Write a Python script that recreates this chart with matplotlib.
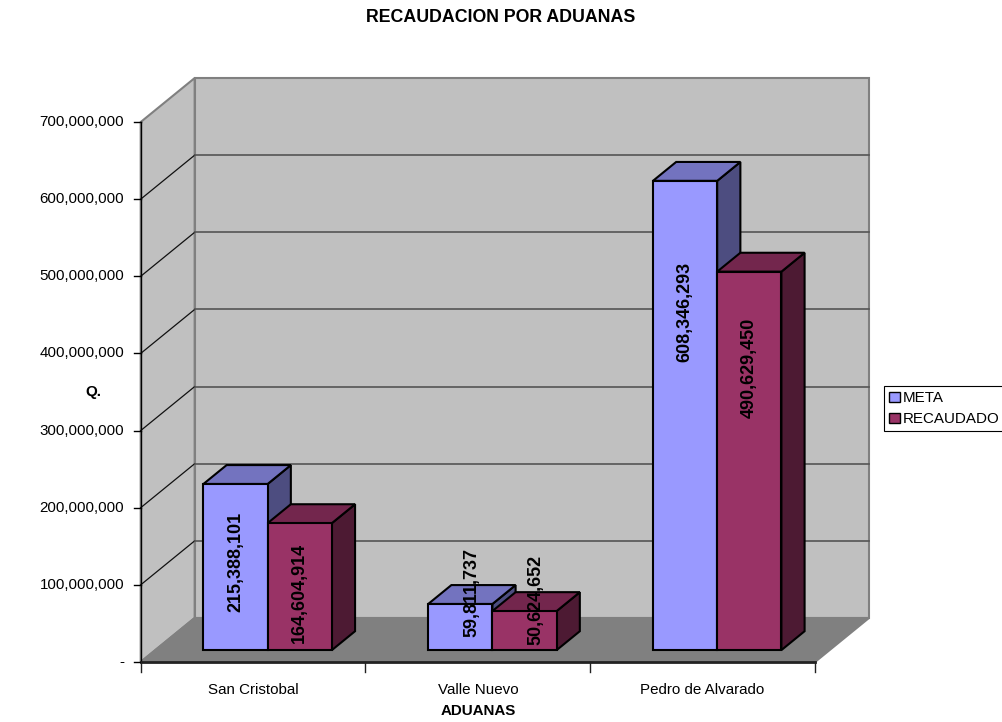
import matplotlib.pyplot as plt
from matplotlib.patches import Polygon, Patch

plt.rcParams['font.family'] = ['Liberation Sans', 'DejaVu Sans']

# Data
aduanas = ['San Cristobal', 'Valle Nuevo', 'Pedro de Alvarado']
meta = [215388101, 59811737, 608346293]
recaudado = [164604914, 50624652, 490629450]
series_names = ['META', 'RECAUDADO']
y_ticks = [0, 100e6, 200e6, 300e6, 400e6, 500e6, 600e6, 700e6]
y_tick_labels = ['-', '100,000,000', '200,000,000', '300,000,000', '400,000,000',
                 '500,000,000', '600,000,000', '700,000,000']

# face colours: front, top, side
colors = {
    'META': ('#9999FF', '#7373BF', '#4D4D80'),
    'RECAUDADO': ('#993366', '#73264D', '#4D1A33'),
}

# where the value label sits: height as share of the bar, depth as share of the bar depth
label_height = {'META': [0.53, 1.04, 0.72], 'RECAUDADO': [0.45, 1.04, 0.745]}
label_depth = [0.0, 0.5, 0.0]

# oblique projection of the floor depth
DX, DY = 0.24, 57.0e6
YMAX = 700e6
n = len(aduanas)


def proj(x, y, d):
    return (x + d * DX, y + d * DY)


def face(ax, pts, fc, ec, lw=1.5, z=1):
    ax.add_patch(Polygon([proj(*p) for p in pts], closed=True, facecolor=fc,
                         edgecolor=ec, linewidth=lw, joinstyle='miter', zorder=z))


fig = plt.figure(figsize=(10.02, 7.22), dpi=100)
ax = fig.add_axes([0, 0, 1, 1])
ax.set_xlim(-0.626, 3.832)
ax.set_ylim(-77.8e6, 858.2e6)
ax.axis('off')

# walls and floor
face(ax, [(0, 0, 1), (n, 0, 1), (n, YMAX, 1), (0, YMAX, 1)], '#C0C0C0', '#808080')
face(ax, [(0, 0, 0), (0, 0, 1), (0, YMAX, 1), (0, YMAX, 0)], '#C0C0C0', '#808080')
face(ax, [(0, 0, 0), (n, 0, 0), (n, 0, 1), (0, 0, 1)], '#808080', '#808080')

# gridlines on the side wall and back wall
for v in y_ticks[1:-1]:
    a, b, c = proj(0, v, 0), proj(0, v, 1), proj(n, v, 1)
    ax.plot([a[0], b[0]], [a[1], b[1]], color='#111111', lw=0.9, zorder=2)
    ax.plot([b[0], c[0]], [b[1], c[1]], color='#555555', lw=1.2, zorder=2)

# axes lines and ticks
ax.plot([0, 0], [0, YMAX], color='black', lw=1, zorder=3)
ax.plot([0, n], [0, 0], color='#222222', lw=2, zorder=3)
for v, lab in zip(y_ticks, y_tick_labels):
    ax.plot([-0.031, 0], [v, v], color='black', lw=1, zorder=3)
    ax.text(-0.074, v, lab, ha='right', va='center', fontsize=10.9)
for i in range(n + 1):
    ax.plot([i, i], [0, -13e6], color='#222222', lw=1, zorder=3)
for i, name in enumerate(aduanas):
    ax.text(i + 0.5, -36e6, name, ha='center', va='center', fontsize=10.9)

# bars
w = 1 / 3.5
d0, d1 = 0.27, 0.70
for i in range(n):
    for k, (name, vals) in enumerate(zip(series_names, [meta, recaudado])):
        v = vals[i]
        x0 = i + 0.5 - w + k * w
        x1 = x0 + w
        front, top, side = colors[name]
        face(ax, [(x1, 0, d0), (x1, 0, d1), (x1, v, d1), (x1, v, d0)], side, 'black', z=4)
        face(ax, [(x0, v, d0), (x1, v, d0), (x1, v, d1), (x0, v, d1)], top, 'black', z=4)
        face(ax, [(x0, 0, d0), (x1, 0, d0), (x1, v, d0), (x0, v, d0)], front, 'black', z=4)

# value labels
for i in range(n):
    for k, (name, vals) in enumerate(zip(series_names, [meta, recaudado])):
        v = vals[i]
        xc = i + 0.5 - w + k * w + w / 2
        d = d0 + label_depth[i] * (d1 - d0)
        lx, ly = proj(xc, v * label_height[name][i], d)
        ax.text(lx, ly, f'{v:,}', rotation=90, ha='center', va='center',
                fontsize=13, fontweight='bold', zorder=6)

ax.text(-0.21, 350e6, 'Q.', ha='center', va='center', fontsize=10.9, fontweight='bold')
ax.text(n / 2, -63.5e6, 'ADUANAS', ha='center', va='center', fontsize=10.9, fontweight='bold')
fig.text(0.5, 1 - 18 / 722, 'RECAUDACION POR ADUANAS', ha='center', va='center',
         fontsize=12.8, fontweight='bold')

handles = [Patch(facecolor=colors[s][0], edgecolor='black', linewidth=1) for s in series_names]
leg = fig.legend(handles, series_names, loc='upper left',
                 bbox_to_anchor=(884 / 1002, 1 - 386 / 722), fontsize=10.9,
                 frameon=True, fancybox=False, edgecolor='black', framealpha=1,
                 handlelength=0.7, handleheight=0.7, handletextpad=0.2,
                 borderpad=0.35, labelspacing=0.45, borderaxespad=0)
leg.get_frame().set_linewidth(0.8)

fig.savefig('out.png', dpi=100)
